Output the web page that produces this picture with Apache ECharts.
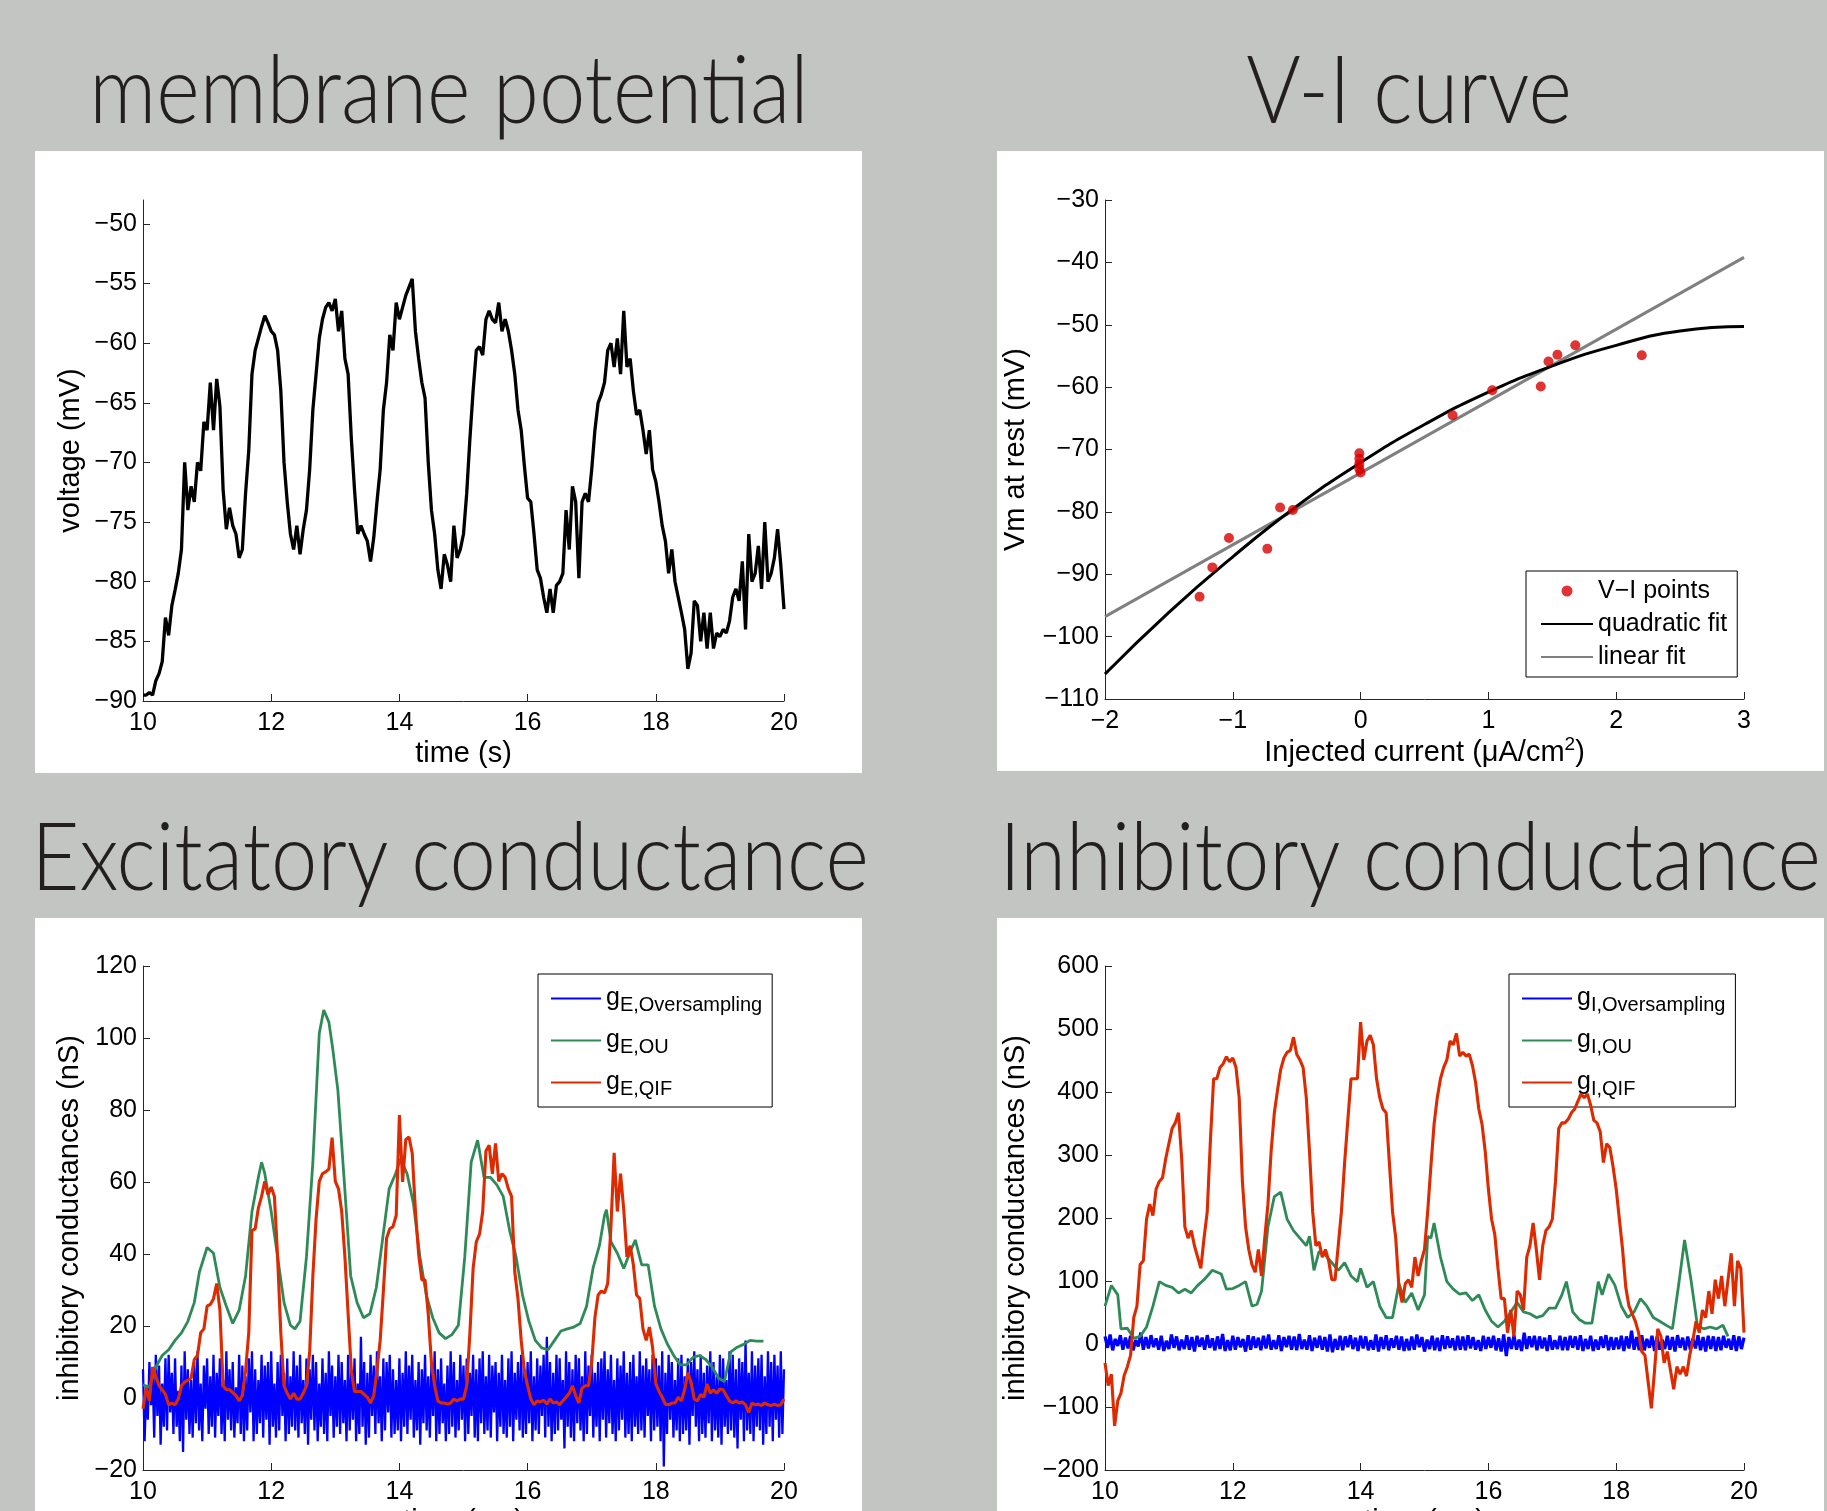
<!DOCTYPE html>
<html>
<head>
<meta charset="utf-8">
<title>membrane potential, V-I curve, conductances</title>
<script src="https://cdn.jsdelivr.net/npm/echarts@6/dist/echarts.min.js"></script>
<style>
html, body { margin: 0; padding: 0; background: #c3c5c3; }
#main { width: 1827px; height: 1511px; }
</style>
</head>
<body>
<div id="main"></div>
<script>
// ---------- data ----------
// membrane potential (mV), one value every 0.05 s from 10 to 20 s
const vmVoltage = [
  -89.5, -89.5, -89.3, -89.5, -88.3, -87.7, -86.7, -83, -84.5, -82,
  -80.7, -79.3, -77.3, -70, -74, -72, -73.3, -70, -70.7, -66.6,
  -67.3, -63.3, -67.3, -63, -65.3, -72.3, -75.6, -73.8, -75.3, -76,
  -78, -77.3, -72.6, -69, -62.6, -60.6, -59.6, -58.6, -57.7, -58.3,
  -59, -59.3, -60.6, -64, -70, -73.3, -76, -77.3, -75.3, -77.7,
  -75.6, -74, -70.6, -65.6, -62.6, -59.6, -58, -57, -56.6, -57.3,
  -56.3, -59, -57.3, -61.3, -62.6, -68, -72.3, -76, -75.3, -76,
  -76.6, -78.3, -76.3, -73.3, -70.6, -65.6, -63.3, -59.3, -60.6, -56.6,
  -58, -57, -56, -55.3, -54.6, -59, -61.3, -63.3, -64.6, -70,
  -74, -76, -79, -80.6, -77.7, -78.6, -80, -75.3, -78, -77.3,
  -76, -72.6, -68, -64, -60.6, -60.3, -61, -58, -57.3, -58,
  -58.3, -56.6, -59, -58, -59, -60.6, -62.6, -65.6, -67.3, -70.3,
  -73, -73.3, -76, -79, -79.7, -81.3, -82.6, -80.6, -82.6, -80.3,
  -80, -79.3, -74, -77.3, -72, -73.3, -79.7, -73.3, -72.6, -73.3,
  -70.6, -67.3, -65, -64.3, -63.3, -60.6, -60, -62, -59.6, -62.6,
  -57.3, -62, -61.3, -64, -66, -65.6, -67.3, -69.3, -67.3, -70.6,
  -71.6, -73.3, -75.3, -76.6, -79.3, -77.3, -80, -81.3, -82.6, -84,
  -87.3, -86, -81.6, -82, -85, -82.6, -85.6, -82.6, -85.6, -84.3,
  -84.6, -84, -84.3, -83.3, -81.3, -80.6, -81.6, -78.3, -84, -76,
  -80, -79.3, -77, -80.6, -75, -80, -79.3, -78, -75.6, -78.6,
  -82.3
];

// V-I curve
const viCurrent = [-1.26, -1.16, -1.03, -0.73, -0.63, -0.53, -0.01, -0.01, -0.01, 0, -0.01, 0.72, 1.03, 1.41, 1.47, 1.54, 1.68, 2.2];
const viVoltage = [-93.6, -88.9, -84.2, -85.9, -79.3, -79.7, -70.6, -71.5, -72.3, -73.7, -73.1, -64.5, -60.5, -59.9, -55.9, -54.8, -53.3, -54.9];
const quadCurrent = [-2, -1.5, -1, -0.5, 0, 0.5, 1, 1.5, 2, 2.5, 3];
const quadVoltage = [-106, -96.1, -87.2, -79.1, -72.1, -66, -60.8, -56.6, -53.3, -51, -50.3];
const linCurrent = [-2, 3];
const linVoltage = [-96.8, -39.2];

// excitatory conductances (nS)
const geOuTime = [10, 10.1, 10.2, 10.3, 10.4, 10.5, 10.6, 10.7, 10.8, 10.88, 11, 11.1, 11.2, 11.3, 11.4, 11.5, 11.6, 11.7, 11.8, 11.85,
  11.9, 12, 12.1, 12.2, 12.3, 12.37, 12.45, 12.55, 12.65, 12.75, 12.82, 12.9, 12.96, 13.04, 13.14, 13.24, 13.34, 13.44, 13.54, 13.64,
  13.74, 13.84, 13.94, 14.02, 14.12, 14.22, 14.32, 14.42, 14.52, 14.62, 14.72, 14.82, 14.92, 15.02, 15.12, 15.22, 15.32, 15.42, 15.52, 15.62,
  15.72, 15.82, 15.92, 16.02, 16.12, 16.22, 16.32, 16.42, 16.52, 16.62, 16.72, 16.82, 16.92, 17.02, 17.12, 17.2, 17.23, 17.3, 17.4, 17.5,
  17.57, 17.68, 17.78, 17.88, 17.98, 18.08, 18.18, 18.28, 18.38, 18.48, 18.58, 18.68, 18.78, 18.88, 18.98, 19.07, 19.17, 19.27, 19.37, 19.47,
  19.57, 19.68];
const geOuValues = [3.7, 3, 8.6, 11.8, 13.4, 16, 18.1, 21.3, 26.5, 35, 41.8, 40.2, 30.7, 25.5, 20.7, 24.4, 33.9, 51.8, 61.3, 65.5,
  62.3, 51.8, 39.2, 26.5, 20.2, 19.2, 21.3, 39.2, 65.5, 101.3, 107.8, 104.4, 97, 85.5, 60.2, 33.9, 26.5, 22.3, 23.4, 30.7,
  44.4, 58.1, 62.3, 66.5, 62.3, 53.9, 39.2, 28.6, 22.3, 18.1, 16.5, 17.6, 20.2, 39.2, 65.5, 71.6, 61.3, 61.3, 59.2, 56,
  46.5, 39.2, 28.6, 21.3, 16, 13.9, 13.4, 16, 18.6, 19.2, 19.7, 20.7, 25.5, 36, 42.3, 50.7, 52.3, 43.4, 40.2, 36,
  39.2, 43.9, 37, 37, 25.5, 19.2, 15, 11.8, 9.2, 9.2, 11.3, 11.8, 10.7, 8.6, 5.5, 4.6, 12.8, 14.1, 14.9, 16,
  15.8, 15.8];
// every 0.05 s
const geQifValues = [
  -3, 2.8, -0.8, 8.6, 6, 3.4, 2.3, 1, -1.9, -1.4,
  -1.9, -0.3, 3.4, 4.4, 5, 5.5, 10.7, 11.8, 18.1, 19.2,
  25.5, 26, 27.6, 31.8, 24.4, 3.4, 2.3, 2.3, 1.5, 0.7,
  -0.8, 0.7, 7.6, 18.1, 46.5, 47, 52.8, 56, 60.2, 56.5,
  58.6, 56, 39.2, 18.1, 3.4, 1.3, -0.3, 1.3, -0.3, -0.3,
  1.3, 3.4, 12.8, 33.9, 49.7, 60.2, 62.3, 62.8, 63.6, 72.3,
  60.2, 58.1, 51.8, 39.2, 23.4, 7.6, 1.8, 1.8, 1.8, 1,
  0.2, -1.4, 0.7, 7.6, 16, 29.7, 44.4, 47, 47.6, 50.7,
  78.6, 60, 71.8, 72.5, 68, 52, 40, 32.8, 32.8, 23.4,
  9.7, 3.4, -0.8, -1.4, -1.4, -1.7, -1.4, -0.3, -0.8, -0.3,
  -0.3, 3.4, 18.1, 36, 43.4, 45.5, 51.8, 68.6, 70.2, 62.3,
  70.7, 60.2, 62.3, 61.3, 58.1, 56, 35, 27.6, 16, 7.6,
  3.4, -0.3, -1.9, -0.8, -1.1, -0.6, -1.7, -0.3, -1.4, -1.1,
  -1.9, -0.8, 0.2, 1.3, 3.4, 0.7, -1.4, 2.8, 3.4, 3.4,
  9.7, 22.3, 28.6, 29.7, 29.2, 31.8, 47.6, 68.1, 51.8, 62.3,
  52.3, 39.2, 42.3, 37, 28.6, 27.6, 19.2, 16, 19.7, 14,
  4, 1.8, 0.2, -1.7, -1.9, -1.4, -1.4, 0.2, -0.8, 2.3,
  7, 4.4, -0.3, -0.8, 1, 0.2, 3.9, 1.3, 2.3, 1.3,
  2.5, 2.3, 0.7, -0.8, -1.4, -0.8, -1.4, -1.1, -1.9, -4,
  -1.4, -1.9, -1.7, -2.1, -1.4, -1.9, -2.1, -1.7, -2.1, -1.9,
  -0.3
];
// every 0.025 s
const geOverValues = [
  8, -12, 3, -6, 10, -2, 7, -11, 12, -5, 9, -13, 4, -8, 11, -9,
  12, -4, 7, -10, 11, -8, 2, -12, 9, -15, 13, -6, 8, -10, 5, -11,
  10, -7, 13, -9, 4, -12, 9, -3, 11, -10, 6, -8, 12, -11, 7, -5,
  11, -10, 5, -12, 13, -6, 8, -9, 10, -11, 3, -7, 12, -10, 9, -12,
  6, -9, 11, -4, 13, -12, 8, -10, 5, -7, 12, -11, 9, -6, 10, -13,
  13, -8, 4, -11, 10, -9, 12, -5, 7, -12, 11, -10, 6, -8, 13, -9,
  9, -11, 12, -7, 5, -10, 11, -13, 8, -6, 12, -9, 10, -12, 4, -8,
  11, -10, 7, -12, 13, -5, 9, -11, 6, -8, 12, -10, 10, -7, 5, -12,
  12, -9, 8, -6, 11, -12, 4, -10, 17, -8, 10, -13, 7, -11, 12, -5,
  9, -10, 13, -7, 6, -12, 11, -9, 10, -4, 12, -11, 8, -10, 5, -9,
  11, -12, 7, -8, 13, -10, 9, -6, 12, -11, 5, -9, 10, -13, 8, -7,
  12, -9, 6, -11, 10, -5, 13, -12, 8, -10, 11, -7, 4, -12, 9, -10,
  13, -8, 10, -11, 5, -9, 12, -6, 9, -12, 11, -10, 7, -5, 12, -11,
  8, -12, 11, -7, 13, -10, 6, -9, 12, -11, 9, -4, 10, -12, 7, -8,
  12, -10, 5, -11, 11, -8, 13, -12, 7, -6, 10, -9, 12, -11, 8, -10,
  10, -7, 13, -12, 6, -9, 11, -10, 9, -5, 12, -11, 17, -8, 10, -12,
  7, -10, 12, -9, 11, -6, 5, -14, 13, -8, 10, -11, 8, -12, 12, -7,
  11, -9, 6, -12, 13, -10, 9, -5, 12, -11, 7, -8, 10, -12, 11, -6,
  13, -11, 8, -7, 12, -10, 5, -12, 11, -9, 9, -6, 13, -11, 7, -10,
  10, -12, 12, -8, 6, -10, 13, -9, 9, -11, 11, -5, 8, -12, 12, -9,
  11, -8, 9, -12, 13, -19, 7, -10, 12, -6, 10, -11, 5, -9, 11, -12,
  12, -10, 6, -9, 11, -13, 10, -5, 13, -8, 8, -12, 12, -10, 7, -11,
  9, -7, 13, -12, 10, -9, 6, -11, 12, -13, 11, -8, 5, -10, 13, -9,
  12, -11, 8, -14, 11, -6, 10, -12, 16, -9, 7, -10, 13, -12, 9, -8,
  11, -9, 12, -13, 6, -10, 13, -8, 10, -12, 12, -6, 9, -11, 13, -10,
  8
];

// inhibitory conductances (nS)
const giOuTime = [10, 10.1, 10.2, 10.25, 10.35, 10.45, 10.55, 10.65, 10.75, 10.85, 10.95, 11.05, 11.15, 11.25, 11.35, 11.45, 11.55, 11.68, 11.82, 11.9,
  12, 12.1, 12.2, 12.3, 12.38, 12.45, 12.55, 12.65, 12.75, 12.85, 12.95, 13.05, 13.15, 13.2, 13.27, 13.35, 13.45, 13.55, 13.65, 13.75,
  13.85, 13.95, 14, 14.1, 14.2, 14.3, 14.4, 14.5, 14.6, 14.7, 14.8, 14.9, 15, 15.05, 15.1, 15.15, 15.25, 15.35, 15.45, 15.55,
  15.65, 15.75, 15.85, 15.95, 16.05, 16.15, 16.25, 16.35, 16.45, 16.55, 16.65, 16.75, 16.85, 16.95, 17.05, 17.15, 17.22, 17.32, 17.42, 17.52,
  17.62, 17.72, 17.78, 17.88, 17.98, 18.08, 18.18, 18.28, 18.38, 18.48, 18.58, 18.68, 18.78, 18.88, 18.98, 19.07, 19.17, 19.27, 19.37, 19.47,
  19.57, 19.67, 19.75];
const giOuValues = [60, 93, 78, 24, 25, 9, 12, 27, 60, 99, 93, 90, 81, 87, 81, 93, 102, 117, 111, 87,
  88, 93, 99, 60, 63, 84, 186, 234, 241, 198, 180, 168, 156, 171, 117, 147, 141, 129, 117, 129,
  108, 99, 120, 90, 99, 60, 42, 42, 96, 66, 81, 54, 78, 171, 168, 192, 138, 99, 87, 79,
  81, 69, 78, 54, 36, 27, 36, 51, 66, 51, 48, 42, 45, 57, 57, 78, 99, 51, 39, 33,
  33, 99, 78, 111, 93, 60, 42, 51, 72, 60, 42, 36, 30, 24, 96, 165, 102, 30, 24, 27,
  24, 30, 12];
// every 0.05 s
const giQifValues = [
  -30, -66, -48, -130, -90, -78, -50, -36, -18, 42,
  60, 126, 132, 198, 222, 204, 246, 258, 264, 294,
  318, 342, 351, 367, 294, 186, 168, 180, 156, 138,
  120, 168, 210, 324, 421, 421, 439, 445, 456, 448,
  454, 439, 391, 258, 186, 150, 126, 114, 150, 108,
  168, 222, 306, 367, 403, 436, 454, 463, 466, 487,
  460, 451, 439, 391, 306, 210, 156, 162, 138, 150,
  132, 102, 102, 156, 210, 288, 355, 421, 421, 421,
  511, 451, 481, 490, 475, 421, 391, 373, 367, 288,
  210, 168, 90, 66, 96, 102, 90, 138, 108, 132,
  150, 210, 282, 349, 391, 421, 439, 451, 481, 475,
  493, 457, 463, 457, 460, 442, 415, 373, 349, 306,
  246, 198, 174, 120, 72, 72, 18, 54, 12, 84,
  78, 54, 138, 156, 192, 150, 102, 156, 180, 186,
  198, 258, 342, 351, 351, 357, 367, 373, 385, 397,
  391, 397, 379, 355, 351, 337, 288, 318, 312, 282,
  246, 198, 150, 90, 60, 48, 36, 18, -12, -18,
  -60, -102, -42, 24, 12, -30, -12, -42, -72, -36,
  -48, -36, -51, -18, 6, 36, 18, 54, 42, 84,
  48, 102, 72, 108, 60, 102, 144, 60, 132, 120,
  18
];
// every 0.04 s
const giOverValues = [
  12, -6, 15, -10, 8, -3, 14, -9, 10, -7,
  13, -10, 6, -4, 18, -9, 11, -7, 14, -5,
  9, -9, 13, -11, 5, -8, 15, -6, 12, -10,
  7, -8, 14, -9, 11, -12, 13, -4, 10, -9,
  14, -6, 9, -10, 12, -8, 16, -11, 6, -10,
  13, -9, 11, -5, 8, -12, 14, -9, 12, -6,
  10, -10, 13, -7, 15, -9, 6, -8, 14, -11,
  11, -5, 13, -9, 12, -10, 16, -8, 7, -9,
  14, -11, 10, -6, 13, -9, 11, -12, 15, -13,
  8, -9, 13, -10, 12, -5, 14, -8, 10, -11,
  13, -7, 12, -10, 6, -9, 15, -12, 11, -8,
  14, -10, 9, -6, 13, -9, 12, -11, 8, -10,
  12, -9, 15, -5, 11, -12, 7, -8, 13, -10,
  10, -11, 14, -8, 12, -6, 9, -10, 13, -9,
  12, -10, 14, -7, 11, -9, 6, -11, 13, -8,
  11, -6, 13, -10, 9, -12, 15, -19, 11, -8,
  14, -9, 7, -11, 18, -8, 12, -5, 13, -10,
  12, -7, 10, -11, 14, -9, 6, -8, 13, -10,
  11, -10, 13, -6, 12, -9, 14, -11, 8, -8,
  13, -11, 7, -9, 12, -6, 14, -10, 11, -9,
  10, -8, 13, -11, 12, -7, 21, -9, 11, -10,
  14, -10, 8, -6, 13, -11, 12, -9, 7, -8,
  13, -9, 11, -12, 14, -6, 10, -10, 12, -9,
  9, -7, 14, -10, 11, -12, 13, -8, 12, -11,
  11, -10, 13, -6, 8, -9, 14, -11, 12, -8,
  10
];

// tick labels
const timeTicks = [10, 12, 14, 16, 18, 20];
const vmTicks = [-90, -85, -80, -75, -70, -65, -60, -55, -50];
const currentTicks = [-2, -1, 0, 1, 2, 3];
const viTicks = [-110, -100, -90, -80, -70, -60, -50, -40, -30];
const geTicks = [-20, 0, 20, 40, 60, 80, 100, 120];
const giTicks = [-200, -100, 0, 100, 200, 300, 400, 500, 600];

// sample times
const t05 = [];
for (let i = 0; i <= 200; i++) t05.push(+(10 + i * 0.05).toFixed(3));
const t04 = [];
for (let i = 0; i <= 250; i++) t04.push(+(10 + i * 0.04).toFixed(3));
const t025 = [];
for (let i = 0; i <= 400; i++) t025.push(+(10 + i * 0.025).toFixed(3));

const pairs = (xs, ys) => xs.map((x, i) => [x, ys[i]]);

// ---------- styles ----------
const axisFont = 'Liberation Sans, Arial, Helvetica, sans-serif';
const titleFont = "Lato, 'DejaVu Sans Condensed', sans-serif";
const axisColor = '#262626';
const blue = '#0000ff', green = '#2e8b57', red = '#de2a00';

const minus = v => String(v).replace('-', '\u2212');

function axis(gridIndex, min, max, ticks, name, nameGap, isY, extra) {
  return Object.assign({
    type: 'value',
    gridIndex: gridIndex,
    min: min,
    max: max,
    name: name,
    nameLocation: 'middle',
    nameGap: nameGap,
    nameTextStyle: { fontFamily: axisFont, fontSize: 29, color: '#000' },
    axisLine: { show: true, onZero: false, lineStyle: { color: axisColor, width: 1 } },
    axisTick: { show: true, inside: true, length: 7, customValues: ticks, lineStyle: { color: axisColor } },
    axisLabel: {
      customValues: ticks,
      formatter: minus,
      fontFamily: axisFont,
      fontSize: 25,
      color: '#000',
      margin: isY ? 6 : 10
    },
    splitLine: { show: false }
  }, extra || {});
}

function lineSeries(name, data, color, width, xi, z) {
  return {
    type: 'line', name: name, data: data,
    xAxisIndex: xi, yAxisIndex: xi,
    symbol: 'none', z: z || 2,
    lineStyle: { color: color, width: width },
    itemStyle: { color: color },
    animation: false
  };
}

// line entries in a legend: hide the marker that the line icon carries
const lineItem = name => ({ name: name, itemStyle: { opacity: 0 } });

function condLegend(names, left) {
  return {
    data: names.map(lineItem),
    orient: 'vertical',
    left: left, top: 974,
    padding: [8, 10, 8, 12],
    itemWidth: 50, itemHeight: 12, itemGap: 9,
    backgroundColor: '#fff',
    borderColor: '#000', borderWidth: 1,
    formatter: n => '{g|g}{s|' + n.slice(1) + '}',
    textStyle: {
      color: '#000',
      fontFamily: axisFont,
      rich: {
        g: { fontSize: 25, fontFamily: axisFont, color: '#000', lineHeight: 26, verticalAlign: 'top' },
        s: { fontSize: 20, fontFamily: axisFont, color: '#000', lineHeight: 20, padding: [13, 0, 0, 0] }
      }
    }
  };
}

function title(text, x, y) {
  return {
    type: 'text', x: x, y: y, scaleX: 0.885,
    style: {
      text: text, font: '300 94px ' + titleFont, fill: '#231f20',
      align: 'center', verticalAlign: 'middle', textAlign: 'center', textVerticalAlign: 'middle'
    }
  };
}

const chart = echarts.init(document.getElementById('main'), null, { renderer: 'canvas' });

chart.setOption({
  backgroundColor: '#c3c5c3',
  animation: false,
  graphic: [
    { type: 'rect', z: -10, shape: { x: 35, y: 151, width: 827, height: 622 }, style: { fill: '#fff' } },
    { type: 'rect', z: -10, shape: { x: 997, y: 151, width: 827, height: 620 }, style: { fill: '#fff' } },
    { type: 'rect', z: -10, shape: { x: 35, y: 918, width: 827, height: 600 }, style: { fill: '#fff' } },
    { type: 'rect', z: -10, shape: { x: 997, y: 918, width: 827, height: 600 }, style: { fill: '#fff' } },
    // zero-width non-joiner keeps "ti" from turning into a ligature
    title('membrane poten\u200ctial', 449, 93),
    title('V-I curve', 1409, 93),
    title('Excitatory conductance', 450, 860),
    title('Inhibitory conductance', 1410, 860)
  ],
  grid: [
    { left: 143, top: 200, width: 641, height: 501, outerBoundsMode: 'none' },
    { left: 1105, top: 200, width: 639, height: 499, outerBoundsMode: 'none' },
    { left: 143, top: 966, width: 641, height: 504, outerBoundsMode: 'none' },
    { left: 1105, top: 966, width: 639, height: 504, outerBoundsMode: 'none' }
  ],
  xAxis: [
    axis(0, 10, 20, timeTicks, 'time (s)', 38, false),
    axis(1, -2, 3, currentTicks, 'Injected current (\u03bcA/cm{sup|2})', 36, false, {
      nameTextStyle: {
        fontFamily: axisFont, fontSize: 29, color: '#000', lineHeight: 36,
        rich: { sup: { fontFamily: axisFont, fontSize: 19, color: '#000', lineHeight: 19, verticalAlign: 'top' } }
      }
    }),
    axis(2, 10, 20, timeTicks, 'time (ms)', 37, false),
    axis(3, 10, 20, timeTicks, 'time (ms)', 37, false)
  ],
  yAxis: [
    axis(0, -90, -48, vmTicks, 'voltage (mV)', 58, true),
    axis(1, -110, -30, viTicks, 'Vm at rest (mV)', 75, true),
    axis(2, -20, 120, geTicks, 'inhibitory conductances (nS)', 59, true),
    axis(3, -200, 600, giTicks, 'inhibitory conductances (nS)', 75, true)
  ],
  legend: [
    {
      data: ['V\u2212I points', lineItem('quadratic fit'), lineItem('linear fit')],
      orient: 'vertical',
      left: 1526, top: 571,
      padding: [7, 10, 7, 14],
      itemWidth: 52, itemHeight: 11, itemGap: 7,
      backgroundColor: '#fff',
      borderColor: '#000', borderWidth: 1,
      textStyle: { color: '#000', fontFamily: axisFont, fontSize: 25, lineHeight: 26 }
    },
    condLegend(['gE,Oversampling', 'gE,OU', 'gE,QIF'], 538),
    condLegend(['gI,Oversampling', 'gI,OU', 'gI,QIF'], 1509)
  ],
  series: [
    lineSeries('membrane', pairs(t05, vmVoltage), '#000', 3.3, 0),

    lineSeries('linear fit', pairs(linCurrent, linVoltage), '#808080', 3, 1, 2),
    Object.assign(lineSeries('quadratic fit', pairs(quadCurrent, quadVoltage), '#000', 3, 1, 3), { smooth: true }),
    {
      type: 'scatter', name: 'V\u2212I points',
      data: pairs(viCurrent, viVoltage),
      xAxisIndex: 1, yAxisIndex: 1, z: 5,
      symbol: 'circle', symbolSize: 10,
      itemStyle: { color: '#d80000' },
      animation: false
    },

    lineSeries('gE,Oversampling', pairs(t025, geOverValues), blue, 2.3, 2, 2),
    lineSeries('gE,OU', pairs(geOuTime, geOuValues), green, 2.8, 2, 3),
    lineSeries('gE,QIF', pairs(t05, geQifValues), red, 3.1, 2, 4),

    lineSeries('gI,Oversampling', pairs(t04, giOverValues), blue, 3.2, 3, 2),
    lineSeries('gI,OU', pairs(giOuTime, giOuValues), green, 2.8, 3, 3),
    lineSeries('gI,QIF', pairs(t05, giQifValues), red, 3.1, 3, 4)
  ]
});
</script>
</body>
</html>
